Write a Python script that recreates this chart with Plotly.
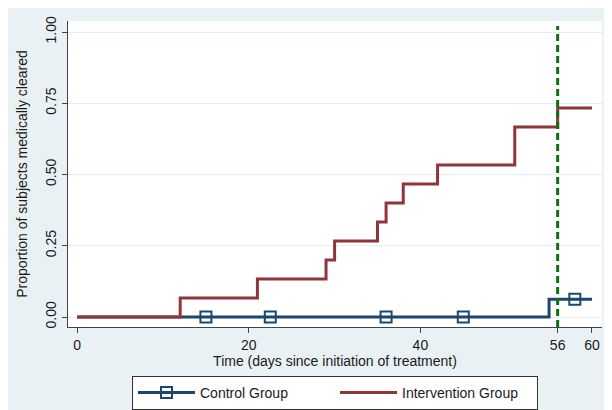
import plotly.graph_objects as go

# ---- data ----
int_time = [0, 12, 21, 29, 30, 35, 36, 38, 42, 51, 56, 60]
int_prop = [0, 1/15, 2/15, 3/15, 4/15, 5/15, 6/15, 7/15, 8/15, 10/15, 11/15, 11/15]

ctl_time = [0, 55, 60]
ctl_prop = [0, 1/16, 1/16]

ctl_cens_time = [15, 22.5, 36, 45, 58]
ctl_cens_prop = [0, 0, 0, 0, 1/16]

ref_day = 56
x_ticks = [0, 20, 40, 56, 60]
y_ticks = [0, 0.25, 0.5, 0.75, 1.0]
y_tick_labels = ["0.00", "0.25", "0.50", "0.75", "1.00"]

NAVY = "#1a476f"
MAROON = "#90353b"
GREEN = "#0d6e12"
BG = "#eaf1f4"
FONT = "Liberation Sans, Arial, sans-serif"

fig = go.Figure()

fig.add_trace(go.Scatter(x=ctl_time, y=ctl_prop, mode="lines", line=dict(color=NAVY, width=3, shape="hv"),
                         showlegend=False, hoverinfo="skip"))
fig.add_trace(go.Scatter(x=ctl_cens_time, y=ctl_cens_prop, mode="markers",
                         marker=dict(symbol="square-open", size=11, color=NAVY, line=dict(width=2, color=NAVY)),
                         showlegend=False))
fig.add_trace(go.Scatter(x=int_time, y=int_prop, mode="lines", line=dict(color=MAROON, width=3, shape="hv"),
                         showlegend=False))
fig.add_trace(go.Scatter(x=[ref_day, ref_day], y=[-0.035, 1.021], mode="lines",
                         line=dict(color=GREEN, width=3, dash="7px,4px"), showlegend=False))

# legend entries
fig.add_trace(go.Scatter(x=[None], y=[None], mode="lines+markers", name="Control Group",
                         line=dict(color=NAVY, width=3),
                         marker=dict(symbol="square-open", size=11, color=NAVY, line=dict(width=2, color=NAVY))))
fig.add_trace(go.Scatter(x=[None], y=[None], mode="lines", name="Intervention Group",
                         line=dict(color=MAROON, width=3)))

fig.update_layout(
    width=612, height=410,
    margin=dict(l=60, r=18, t=13, b=91, autoexpand=False),
    paper_bgcolor=BG, plot_bgcolor="white",
    font=dict(family=FONT, size=14, color="#1a1a1a"),
    xaxis=dict(range=[-1.08, 61.17], tickvals=x_ticks, showgrid=False, zeroline=False,
               showline=True, linecolor="#444", linewidth=1, ticks="outside", ticklen=5,
               tickcolor="#444", tickfont=dict(size=14),
               title=dict(text="Time (days since initiation of treatment)", standoff=3, font=dict(size=14)),
               automargin=False),
    yaxis=dict(range=[-0.0351, 1.0386], tickvals=y_ticks, ticktext=y_tick_labels, tickangle=-90,
               showgrid=True, gridcolor="#e4edf1", gridwidth=1, zeroline=False,
               showline=True, linecolor="#444", linewidth=1, ticks="outside", ticklen=5,
               tickcolor="#444", tickfont=dict(size=14),
               title=dict(text="Proportion of subjects medically cleared", standoff=12, font=dict(size=14)),
               automargin=False),
    legend=dict(orientation="h", x=0.5, xanchor="center", y=-0.16, yanchor="top",
                bgcolor="white", bordercolor="#333", borderwidth=1, itemwidth=57,
                font=dict(size=14), entrywidth=130, entrywidthmode="pixels"),
)

fig.write_html("out.html")
